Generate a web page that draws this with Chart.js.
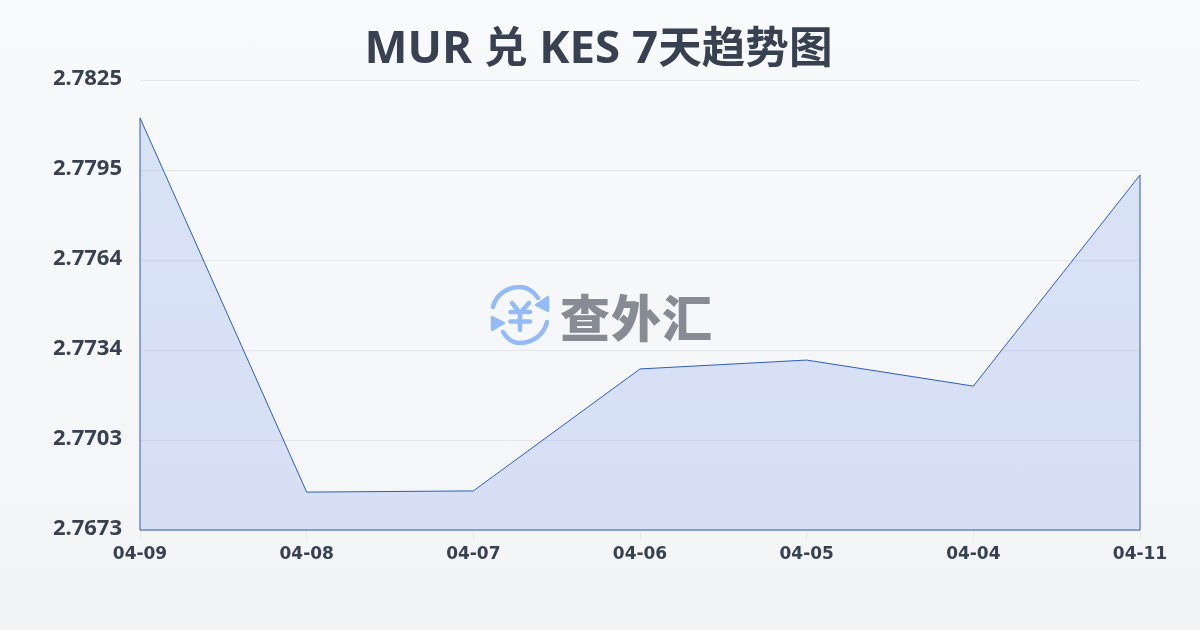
<!DOCTYPE html>
<html lang="zh">
<head>
    <meta charset="UTF-8">
    <title>MUR 兑 KES 7天趋势图</title>
    <script src="https://cdn.jsdelivr.net/npm/chart.js"></script>
    <style>
        * { margin: 0; padding: 0; box-sizing: border-box; }
        html, body { width: 1200px; height: 630px; overflow: hidden; }
        body { background: linear-gradient(180deg, #f8fafc, #f3f4f6); position: relative; }
        #chart { position: absolute; left: 0; top: 0; }
        h1 {
            position: absolute; left: 0; top: 15px; width: 1197px; text-align: center;
            font: 700 45.6px/60px "Open Sans", "Noto Sans CJK SC", sans-serif; color: #374151;
        }
        h1 span { font-size: 43.6px; }
        .logo {
            position: absolute; left: 490px; top: 285px; height: 60px; width: 230px;
            display: flex; align-items: center;
        }
        .logo span {
            margin-left: 10px; font: 900 50px "Noto Sans CJK SC", sans-serif;
            color: #868b94; line-height: 60px; letter-spacing: 1px;
        }
    </style>
</head>
<body>
    <canvas id="chart" width="1200" height="630"></canvas>
    <h1>MUR <span>兑</span> KES 7<span>天趋势图</span></h1>
    <div class="logo">
        <svg width="60" height="60" viewBox="0 0 60 60" fill="none" stroke="#94bbf9" stroke-width="4.5" stroke-linecap="round" stroke-linejoin="round">
            <path d="M3 22 C6 9 18 2 30 2 C37 2 43 6 48 13"/>
            <path d="M57 37 C54 50 42 58 30 58 C23 58 17 54 13 47"/>
            <path d="M58 12 L58 26 L46 20 Z" fill="#94bbf9" stroke-width="2.5"/>
            <path d="M2 32 L2 45 L14 38 Z" fill="#94bbf9" stroke-width="2.5"/>
            <path d="M22 18 L30 28 L39 18 M20.5 27 H40 M20.5 36.5 H40 M30 28 V45"/>
        </svg>
        <span>查外汇</span>
    </div>

    <script>
        const categories = ['04-09', '04-08', '04-07', '04-06', '04-05', '04-04', '04-11'];
        const rates = [2.78122, 2.76858, 2.76862, 2.77274, 2.77304, 2.77216, 2.77929];
        const yTicks = [2.7673, 2.77034, 2.77338, 2.77642, 2.77946, 2.7825];
        const yMin = 2.7673;
        const yMax = 2.7825;

        // the area is outlined on all sides, the line dataset only strokes the top
        const outlinePlugin = {
            id: 'outline',
            afterDatasetsDraw(chart) {
                const x = chart.scales.x, y = chart.scales.y;
                const last = categories.length - 1;
                const ctx = chart.ctx;
                ctx.save();
                ctx.strokeStyle = '#2a5cc6';
                ctx.lineWidth = 1;
                ctx.beginPath();
                ctx.moveTo(x.getPixelForValue(0), y.getPixelForValue(rates[0]));
                ctx.lineTo(x.getPixelForValue(0), y.getPixelForValue(yMin));
                ctx.lineTo(x.getPixelForValue(last), y.getPixelForValue(yMin));
                ctx.lineTo(x.getPixelForValue(last), y.getPixelForValue(rates[last]));
                ctx.stroke();
                ctx.restore();
            }
        };

        new Chart(document.getElementById('chart'), {
            type: 'line',
            data: {
                labels: categories,
                datasets: [{
                    data: rates,
                    borderColor: '#2a5cc6',
                    borderWidth: 1,
                    backgroundColor: 'rgba(47, 98, 224, 0.15)',
                    fill: 'start',
                    tension: 0,
                    pointRadius: 0
                }]
            },
            options: {
                responsive: false,
                animation: false,
                layout: { padding: { top: 80, right: 60, bottom: 0, left: 0 } },
                plugins: {
                    legend: { display: false },
                    tooltip: { enabled: false }
                },
                scales: {
                    x: {
                        grid: { drawOnChartArea: false, color: '#e5e7eb', tickLength: 10 },
                        border: { display: false },
                        ticks: {
                            color: '#374151', maxRotation: 0, autoSkip: false, padding: 4,
                            font: { family: '"DejaVu Sans", sans-serif', size: 17, weight: '700' }
                        },
                        afterFit(scale) { scale.height = 100; }
                    },
                    y: {
                        min: yMin,
                        max: yMax,
                        grid: { color: '#e5e7eb', drawTicks: false },
                        border: { display: false },
                        afterBuildTicks(scale) { scale.ticks = yTicks.map(v => ({ value: v })); },
                        ticks: {
                            color: '#374151', padding: 18, labelOffset: -1,
                            font: { family: '"Noto Sans", sans-serif', size: 22, weight: '700' },
                            callback: v => v.toFixed(4)
                        },
                        afterFit(scale) { scale.width = 140; }
                    }
                }
            },
            plugins: [outlinePlugin]
        });
    </script>
</body>
</html>
